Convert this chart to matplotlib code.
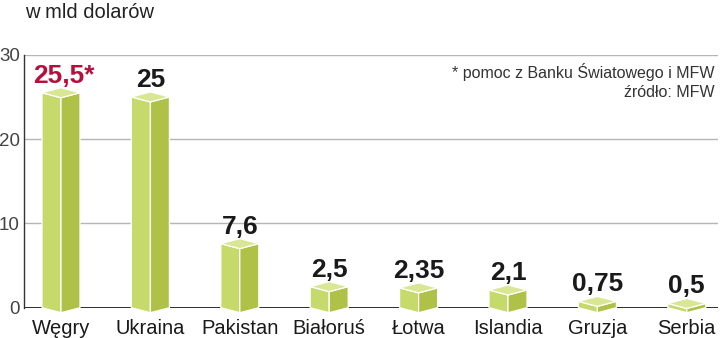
import matplotlib
matplotlib.use("Agg")
import matplotlib.pyplot as plt
from matplotlib.patches import Polygon
import matplotlib.transforms as mtransforms

categories = ["Węgry", "Ukraina", "Pakistan", "Białoruś", "Łotwa", "Islandia", "Gruzja", "Serbia"]
values = [25.5, 25, 7.6, 2.5, 2.35, 2.1, 0.75, 0.5]
value_labels = ["25,5*", "25", "7,6", "2,5", "2,35", "2,1", "0,75", "0,5"]
yticks = [0, 10, 20, 30]
title = "w mld dolarów"
note1 = "* pomoc z Banku Światowego i MFW"
note2 = "źródło: MFW"

FONT = ["Liberation Sans", "DejaVu Sans"]
plt.rcParams["font.family"] = FONT

W, H = 720, 338
fig = plt.figure(figsize=(W / 100, H / 100), dpi=100)
ax = fig.add_axes([24 / W, (H - 307.7) / H, (718 - 24) / W, (307.7 - 54.8) / H])

spacing_px = 89.4
first_px = 61
ax.set_xlim((24 - first_px) / spacing_px, (718 - first_px) / spacing_px)
ax.set_ylim(0, 30)
px_per_unit = (307.7 - 54.8) / 30

hw = 19 / spacing_px          # half width in x units
d = 5 / px_per_unit           # isometric depth in y units

top_c = "#d9e794"
front_c = "#c6d96b"
side_c = "#afc147"

for i, v in enumerate(values):
    c = i
    front = [(c - hw, 0), (c, -d), (c, v - d), (c - hw, v)]
    side = [(c, -d), (c + hw, 0), (c + hw, v), (c, v - d)]
    top = [(c - hw, v), (c, v - d), (c + hw, v), (c, v + d)]
    for pts, col in ((front, front_c), (side, side_c), (top, top_c)):
        ax.add_patch(Polygon(pts, closed=True, facecolor=col, edgecolor="white",
                             linewidth=0.9, zorder=4, clip_on=False, joinstyle="miter"))
    color = "#b5103c" if i == 0 else "#1a1a1a"
    off = mtransforms.offset_copy(ax.transData, fig=fig, x=3 if i == 0 else 0, y=5, units="dots")
    ax.text(c, v + d, value_labels[i], transform=off, ha="center", va="baseline",
            fontsize=19, fontweight="bold", color=color, zorder=5)

ax.set_xticks(range(len(categories)))
ax.set_xticklabels(categories, fontsize=14.5, color="#1a1a1a")
ax.tick_params(axis="x", length=0, pad=8)
ax.set_yticks(yticks)
ax.set_yticklabels([str(t) for t in yticks], fontsize=13.5, color="#444444")
ax.tick_params(axis="y", length=0, pad=3)

for t in yticks[1:]:
    ax.axhline(t, color="#b5b5b5", lw=1, zorder=1)
ax.axhline(0, color="#1a1a1a", lw=2, zorder=2)

for s in ["top", "right", "bottom"]:
    ax.spines[s].set_visible(False)
ax.spines["left"].set_color("#333333")
ax.spines["left"].set_linewidth(1)

fig.text(25 / W, 1 - 13 / H, title, fontsize=14.5, color="#222222", ha="left", va="center")
fig.text(715 / W, 1 - 78 / H, note1, fontsize=11.5, color="#333333", ha="right", va="baseline")
fig.text(715 / W, 1 - 97 / H, note2, fontsize=11.5, color="#333333", ha="right", va="baseline")

fig.savefig("out.png", dpi=100)
